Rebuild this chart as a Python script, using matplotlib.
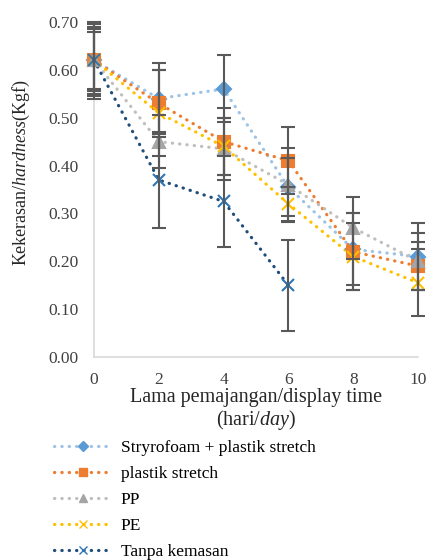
import matplotlib
matplotlib.use("Agg")
import matplotlib.pyplot as plt
from matplotlib.lines import Line2D

plt.rcParams['font.family'] = ['Liberation Serif', 'DejaVu Serif']
plt.rcParams['mathtext.fontset'] = 'custom'
plt.rcParams['mathtext.rm'] = 'Liberation Serif'
plt.rcParams['mathtext.it'] = 'Liberation Serif:italic'

days = [0, 2, 4, 6, 8, 10]
series_names = ["Stryrofoam + plastik stretch", "plastik stretch", "PP", "PE", "Tanpa kemasan"]
styro = [0.62, 0.54, 0.56, 0.355, 0.225, 0.21]
stretch = [0.62, 0.53, 0.45, 0.41, 0.22, 0.19]
pp = [0.62, 0.45, 0.435, 0.36, 0.27, 0.20]
pe = [0.62, 0.51, 0.44, 0.32, 0.21, 0.155]
tanpa = [0.62, 0.37, 0.325, 0.15]
styro_err = [0.06, 0.075, 0.07, 0.06, 0.075, 0.07]
stretch_err = [0.07, 0.07, 0.07, 0.07, 0.08, 0.05]
pp_err = [0.065, 0.055, 0.065, 0.077, 0.065, 0.06]
pe_err = [0.075, 0.09, 0.06, 0.035, 0.07, 0.07]
tanpa_err = [0.08, 0.10, 0.095, 0.095]
yticks = [0.0, 0.1, 0.2, 0.3, 0.4, 0.5, 0.6, 0.7]

line_colors = ["#9DC3E6", "#ED7D31", "#BFBFBF", "#FFC000", "#1F4E79"]
marker_colors = ["#5B9BD5", "#ED7D31", "#A5A5A5", "#FFC000", "#2E75B6"]
markers = ["D", "s", "^", "x", "x"]
msizes = [7, 9, 9, 8, 9]

fig = plt.figure(figsize=(4.28, 5.6), dpi=100)
ax = fig.add_axes([94/428, 1-357/560, 324/428, 335/560])

all_y = [styro, stretch, pp, pe, tanpa]
all_e = [styro_err, stretch_err, pp_err, pe_err, tanpa_err]
handles = []
for i, (yv, ev) in enumerate(zip(all_y, all_e)):
    xv = days[:len(yv)]
    ax.plot(xv, yv, color=line_colors[i], lw=2.3, linestyle=(0, (0.1, 2.2)),
            dash_capstyle='round', zorder=2, clip_on=False)
    ax.plot(xv, yv, linestyle='none', marker=markers[i], ms=msizes[i],
            color=marker_colors[i], mec=marker_colors[i], mew=1.5, zorder=3, clip_on=False)
    eb = ax.errorbar(xv, yv, yerr=ev, fmt='none', ecolor='#595959', elinewidth=1.5,
                     capsize=5, capthick=1.5, zorder=4)
    for art in eb.lines[1]:
        art.set_clip_on(False)
    for art in eb.lines[2]:
        art.set_clip_on(False)
    handles.append(Line2D([0], [0], color=line_colors[i], lw=2.3,
                          linestyle=(0, (0.1, 2.2)), dash_capstyle='round',
                          marker=markers[i], ms=msizes[i] * 0.7,
                          markerfacecolor=marker_colors[i], markeredgecolor=marker_colors[i]))

ax.set_xlim(0, 10)
ax.set_ylim(0, 0.70)
ax.set_xticks(days)
ax.set_yticks(yticks)
ax.set_yticklabels([f"{v:.2f}" for v in yticks])
ax.tick_params(length=0, labelsize=12.5, colors='#404040')
ax.tick_params(axis='y', pad=11)
ax.tick_params(axis='x', pad=11)
for s in ['top', 'right']:
    ax.spines[s].set_visible(False)
for s in ['left', 'bottom']:
    ax.spines[s].set_color('#D9D9D9')
    ax.spines[s].set_linewidth(1.2)
ax.margins(x=0)

ax.set_ylabel(r"Kekerasan/$\mathit{hardness}$(Kgf)", fontsize=13, color='#262626')
ax.yaxis.set_label_coords(-62/324, 0.552)
ax.set_xlabel("Lama pemajangan/display time\n" + r"(hari/$\mathit{day}$)", fontsize=14.5,
              color='#262626', labelpad=0, linespacing=1.05)

fig.legend(handles, series_names, loc='upper left', bbox_to_anchor=(47/428, 1-433/560),
           frameon=False, fontsize=12.5, handlelength=3.3, numpoints=1,
           labelspacing=0.57, handletextpad=0.55, borderaxespad=0)

fig.savefig("out.png", dpi=100)
